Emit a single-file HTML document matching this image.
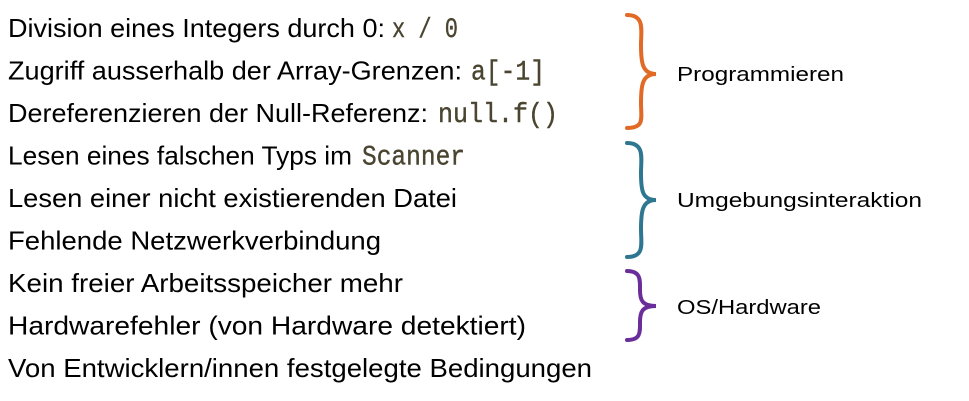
<!DOCTYPE html>
<html><head><meta charset="utf-8"><style>body{margin:0;background:#fff}svg{display:block}</style></head>
<body>
<svg width="969" height="401" xmlns="http://www.w3.org/2000/svg" font-family="Liberation Sans, sans-serif" font-size="26">
<g fill="#000">
<text x="8" y="37" textLength="377" lengthAdjust="spacingAndGlyphs">Division eines Integers durch 0:</text>
<text x="8" y="79.5" textLength="454" lengthAdjust="spacingAndGlyphs">Zugriff ausserhalb der Array-Grenzen:</text>
<text x="8" y="122" textLength="420" lengthAdjust="spacingAndGlyphs">Dereferenzieren der Null-Referenz:</text>
<text x="8" y="164.5" textLength="344" lengthAdjust="spacingAndGlyphs">Lesen eines falschen Typs im</text>
<text x="8" y="207" textLength="449" lengthAdjust="spacingAndGlyphs">Lesen einer nicht existierenden Datei</text>
<text x="8" y="249.5" textLength="373" lengthAdjust="spacingAndGlyphs">Fehlende Netzwerkverbindung</text>
<text x="8" y="292" textLength="395" lengthAdjust="spacingAndGlyphs">Kein freier Arbeitsspeicher mehr</text>
<text x="8" y="334.5" textLength="518" lengthAdjust="spacingAndGlyphs">Hardwarefehler (von Hardware detektiert)</text>
<text x="8" y="377" textLength="584" lengthAdjust="spacingAndGlyphs">Von Entwicklern/innen festgelegte Bedingungen</text>
</g>
<g fill="#4a4530" font-family="Liberation Mono, monospace" font-size="28" stroke="#4a4530" stroke-width="0.4">
<text x="392" y="37" textLength="66" lengthAdjust="spacingAndGlyphs">x / 0</text>
<text x="471" y="79.5" textLength="74" lengthAdjust="spacingAndGlyphs">a[-1]</text>
<text x="438" y="122" textLength="120" lengthAdjust="spacingAndGlyphs">null.f()</text>
<text x="362" y="164.5" textLength="103" lengthAdjust="spacingAndGlyphs">Scanner</text>
</g>
<g fill="none" stroke-width="4" stroke-linecap="round">
<path d="M627 15 C645 15 641 30 641 45 C641 62 642 74 656 74 C642 74 641 86 641 103 C641 118 645 128 627 128" stroke="#e06a26"/>
<path d="M627 143 C645 143 641 158 641 173 C641 190 642 200 656 200 C642 200 641 212 641 229 C641 244 645 257 627 257" stroke="#2f7790"/>
<path d="M627 271 C641 271 640 280 640 290 C640 300 642 306 656 306 C642 306 640 312 640 322 C640 332 641 340 627 340" stroke="#6a2e9a"/>
</g>
<g fill="#000" font-size="20">
<text x="677" y="81" textLength="167" lengthAdjust="spacingAndGlyphs">Programmieren</text>
<text x="677" y="207" textLength="245" lengthAdjust="spacingAndGlyphs">Umgebungsinteraktion</text>
<text x="677" y="314" textLength="144" lengthAdjust="spacingAndGlyphs">OS/Hardware</text>
</g>
</svg>
</body></html>
